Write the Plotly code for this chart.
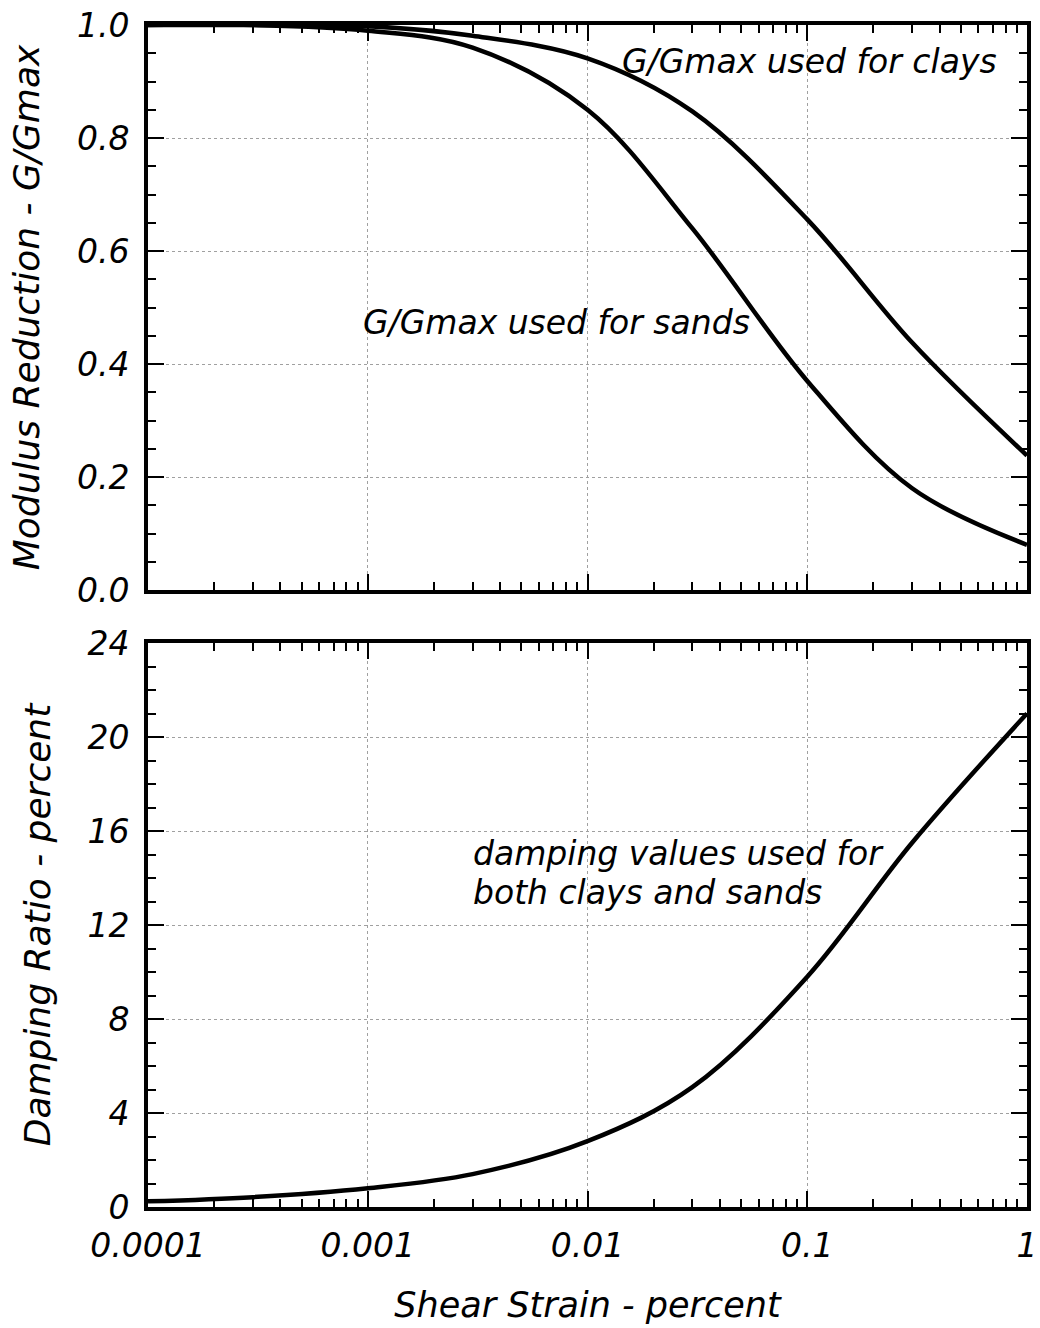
import plotly.graph_objects as go

# Shear strain (percent) at which the curves are tabulated
strain = [0.0001, 0.0003, 0.001, 0.003, 0.01, 0.03, 0.1, 0.3, 1.0]

# Modulus reduction G/Gmax
g_clays = [1.000, 1.000, 0.998, 0.981, 0.941, 0.847, 0.656, 0.438, 0.238]
g_sands = [1.000, 1.000, 0.990, 0.960, 0.850, 0.640, 0.370, 0.180, 0.080]

# Damping ratio (percent), same for clays and sands
damping = [0.24, 0.42, 0.80, 1.40, 2.80, 5.10, 9.80, 15.50, 21.00]

# Axis tick values / labels
x_major = [0.0001, 0.001, 0.01, 0.1, 1]
x_major_text = ["0.0001", "0.001", "0.01", "0.1", "1"]
x_minor = [m * d for d in [0.0001, 0.001, 0.01, 0.1] for m in range(2, 10)]
g_major = [0.0, 0.2, 0.4, 0.6, 0.8, 1.0]
d_major = [0, 4, 8, 12, 16, 20, 24]

FONT = "DejaVu Sans"
font_ticks = dict(family=FONT, size=33, color="black", style="italic")
font_ytitle = dict(family=FONT, size=36, color="black", style="italic")
font_xtitle = dict(family=FONT, size=35, color="black", style="italic")
ann_font = dict(family=FONT, size=33, color="black", style="italic")

W, H = 1040, 1328
ML, MR, MT, MB = 148, 13, 25, 121
PH = H - MT - MB
top_dom = [1 - 565 / PH, 1.0]
bot_dom = [0.0, 1 - 618 / PH]

fig = go.Figure()
line = dict(color="black", width=4.5, shape="spline", smoothing=1.0)
fig.add_trace(go.Scatter(x=strain, y=g_clays, mode="lines", line=line,
                         xaxis="x", yaxis="y", showlegend=False))
fig.add_trace(go.Scatter(x=strain, y=g_sands, mode="lines", line=line,
                         xaxis="x", yaxis="y", showlegend=False))
fig.add_trace(go.Scatter(x=strain, y=damping, mode="lines", line=line,
                         xaxis="x2", yaxis="y2", showlegend=False))

grid = dict(showgrid=True, gridcolor="#a0a0a0", gridwidth=1, griddash="dot")
xcommon = dict(
    type="log", range=[-4, 0], domain=[0, 1], automargin=False,
    showline=True, linecolor="black", linewidth=4, mirror="ticks",
    ticks="inside", ticklen=16, tickwidth=2, tickcolor="black",
    tickvals=x_major, ticktext=x_major_text,
    zeroline=False, tickfont=font_ticks, ticklabelstandoff=6,
    minor=dict(tickvals=x_minor, ticks="inside", ticklen=8, tickwidth=2,
               tickcolor="black", showgrid=False),
    **grid,
)
ycommon = dict(
    automargin=False,
    showline=True, linecolor="black", linewidth=4, mirror="ticks",
    ticks="inside", ticklen=16, tickwidth=2, tickcolor="black",
    zeroline=False, tickfont=font_ticks, ticklabelstandoff=8,
    **grid,
)

fig.update_layout(
    width=W, height=H,
    margin=dict(l=ML, r=MR, t=MT, b=MB),
    paper_bgcolor="white", plot_bgcolor="white",
    xaxis=dict(**xcommon, anchor="y", showticklabels=False),
    yaxis=dict(**ycommon, domain=top_dom, anchor="x", range=[0, 1.0],
               tickvals=g_major, tickformat=".1f",
               minor=dict(dtick=0.05, ticks="inside", ticklen=8, tickwidth=2,
                          tickcolor="black", showgrid=False),
               title=dict(text="Modulus Reduction - G/Gmax", font=font_ytitle,
                          standoff=27)),
    xaxis2=dict(**xcommon, anchor="y2",
                title=dict(text="Shear Strain - percent", font=font_xtitle,
                           standoff=30)),
    yaxis2=dict(**ycommon, domain=bot_dom, anchor="x2", range=[0, 24],
                tickvals=d_major,
                minor=dict(dtick=1, ticks="inside", ticklen=8, tickwidth=2,
                           tickcolor="black", showgrid=False),
                title=dict(text="Damping Ratio - percent", font=font_ytitle,
                           standoff=27)),
)

# Curve labels (x in log10 units on the log axes)
fig.add_annotation(x=-0.99, y=0.935, xref="x", yref="y", text="G/Gmax used for clays",
                   showarrow=False, font=ann_font, xanchor="center", yanchor="middle")
fig.add_annotation(x=-2.14, y=0.474, xref="x", yref="y", text="G/Gmax used for sands",
                   showarrow=False, font=ann_font, xanchor="center", yanchor="middle")
fig.add_annotation(x=-2.53, y=15.06, xref="x2", yref="y2",
                   text="damping values used for",
                   showarrow=False, font=ann_font, xanchor="left", yanchor="middle")
fig.add_annotation(x=-2.53, y=13.40, xref="x2", yref="y2",
                   text="both clays and sands",
                   showarrow=False, font=ann_font, xanchor="left", yanchor="middle")

fig.write_html("out.html")
